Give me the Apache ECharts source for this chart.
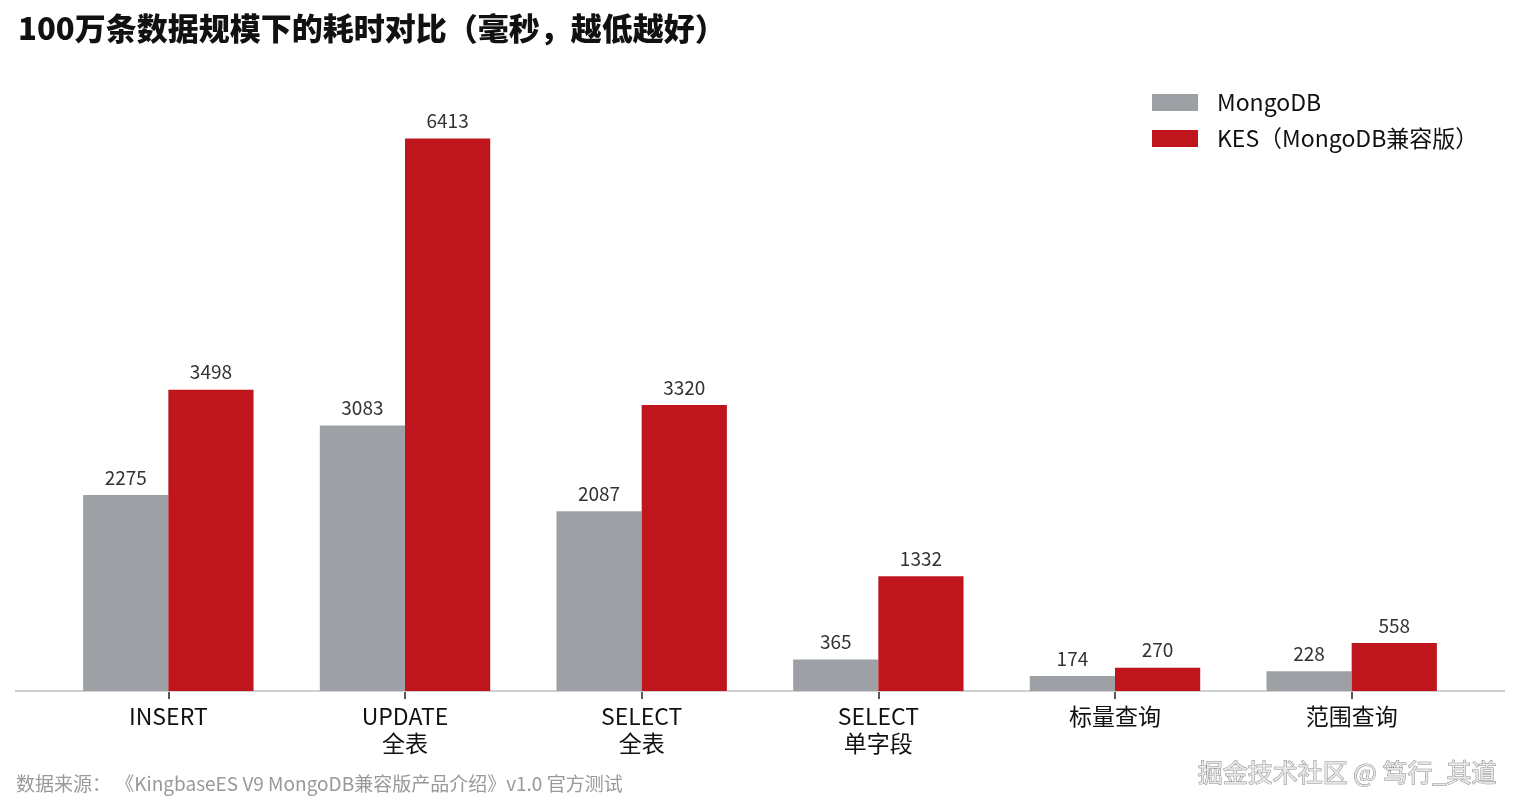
<!DOCTYPE html>
<html>
<head>
<meta charset="utf-8">
<script src="https://cdn.jsdelivr.net/npm/echarts@6/dist/echarts.min.js"></script>
<style>
  html, body { margin: 0; padding: 0; background: #fff; }
  #chart { width: 1519px; height: 812px; }
</style>
</head>
<body>
<div id="chart"></div>
<script>
// 数据
const categories = ['INSERT', 'UPDATE\n全表', 'SELECT\n全表', 'SELECT\n单字段', '标量查询', '范围查询'];
const mongoValues = [2275, 3083, 2087, 365, 174, 228];
const kesValues = [3498, 6413, 3320, 1332, 270, 558];
const seriesNames = ['MongoDB', 'KES（MongoDB兼容版）'];

const FONT = '"Noto Sans CJK SC", "Noto Sans", sans-serif';

const myChart = echarts.init(document.getElementById('chart'));

const option = {
  backgroundColor: '#fff',
  animation: false,
  textStyle: { fontFamily: FONT },
  title: {
    text: '100万条数据规模下的耗时对比（毫秒，越低越好）',
    left: 13,
    top: 8,
    textStyle: { fontFamily: FONT, fontSize: 31, fontWeight: 900, color: '#111' }
  },
  legend: {
    orient: 'vertical',
    left: 1147,
    top: 86,
    itemWidth: 46,
    itemHeight: 17,
    itemGap: 13,
    icon: 'rect',
    textStyle: { fontFamily: FONT, fontSize: 23, color: '#111', padding: [0, 0, 0, 14] },
    data: seriesNames
  },
  grid: { left: 50, right: 49, top: 88, bottom: 121, containLabel: false },
  xAxis: {
    type: 'category',
    data: categories,
    axisLine: { show: false },
    axisTick: { show: true, alignWithLabel: true, length: 8, lineStyle: { color: '#222', width: 1.5 } },
    axisLabel: { fontFamily: FONT, fontSize: 23, color: '#111', lineHeight: 27, margin: 12 }
  },
  yAxis: {
    type: 'value',
    min: 0,
    max: 7000,
    show: false,
    splitLine: { show: false }
  },
  graphic: [
    {
      type: 'line',
      shape: { x1: 15, y1: 691, x2: 1505, y2: 691 },
      style: { stroke: '#d0d0d0', lineWidth: 2 },
      z: 1
    },
    {
      type: 'text',
      left: 16,
      top: 774,
      style: {
        text: '数据来源： 《KingbaseES V9 MongoDB兼容版产品介绍》v1.0 官方测试',
        font: '19px ' + FONT,
        fill: '#999'
      }
    },
    {
      type: 'text',
      right: 22,
      top: 759,
      style: {
        text: '掘金技术社区 @ 笃行_其道',
        font: '25px ' + FONT,
        fill: '#e8e8e8',
        stroke: '#8a8a8a',
        lineWidth: 1
      }
    }
  ],
  series: [
    {
      name: seriesNames[0],
      type: 'bar',
      data: mongoValues,
      barGap: '0%',
      barCategoryGap: '28%',
      itemStyle: { color: '#9DA1A6' },
      label: { show: true, position: 'top', distance: 8, fontFamily: FONT, fontSize: 19, color: '#333' }
    },
    {
      name: seriesNames[1],
      type: 'bar',
      data: kesValues,
      barGap: '0%',
      barCategoryGap: '28%',
      itemStyle: { color: '#BF161E' },
      label: { show: true, position: 'top', distance: 8, fontFamily: FONT, fontSize: 19, color: '#333' }
    }
  ]
};

myChart.setOption(option);
</script>
</body>
</html>
